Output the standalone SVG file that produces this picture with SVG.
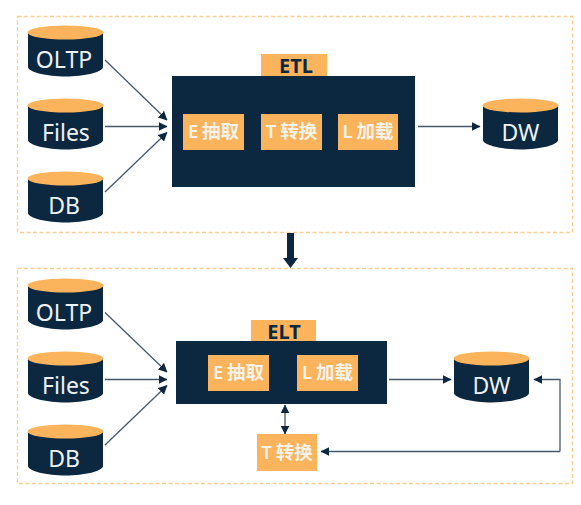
<svg xmlns="http://www.w3.org/2000/svg" width="581" height="505" viewBox="0 0 581 505">
<defs>
<marker id="a" viewBox="0 0 8 8" refX="7.500" refY="4" markerWidth="9" markerHeight="9" markerUnits="userSpaceOnUse" orient="auto-start-reverse"><path d="M0 0L8 4L0 8Z" fill="#0b2840"/></marker>
<g id="cyl"><path class="d" d="M28 32V67C28 72 47 76.500 65.500 76.500S103 72 103 67V32Z"/><ellipse class="o" cx="65.500" cy="32.500" rx="38" ry="7"/></g>
</defs>
<style>
.d{fill:#0b2840}.o{fill:#fbb45c}
.box{fill:none;stroke:#fbcf94;stroke-width:1.300;stroke-dasharray:4 2.500}
.c{fill:none;stroke:#46596c;stroke-width:1.300;marker-end:url(#a)}
text{font-family:"Noto Sans","Noto Sans CJK SC",sans-serif;text-anchor:middle}
.w{fill:#eef2f5;font-size:23px}
.l{fill:#f8f3ea;font-size:18.500px;font-weight:600;word-spacing:-1px}
.t{fill:#0b2840;font-size:20px;font-weight:700}
</style>
<rect width="581" height="505" fill="#fff"/>
<rect class="box" x="17.500" y="16.500" width="555" height="216"/>
<rect class="box" x="17.500" y="268.500" width="555" height="215"/>

<g id="connectors">
<path class="c" d="M105 60L167 120"/>
<path class="c" d="M105 126.500H167"/>
<path class="c" d="M105 192L167 132.500"/>
<path class="c" d="M418 126.500H480"/>
<path class="c" d="M105 312.500L167 372"/>
<path class="c" d="M105 379.500H167"/>
<path class="c" d="M105 445L167 385.500"/>
<path class="c" d="M389 379.500H451"/>
<path class="c" style="marker-start:url(#a)" d="M285 405V434"/>
<path class="c" d="M560 451.500V379.500H534"/>
<path class="c" d="M560 451.500H321"/>
<path d="M287 233H294V258H298L290.500 268L283 258H287Z" fill="#0b2840"/>
</g>

<g id="etl"><rect class="o" x="261" y="54" width="66" height="24"/><rect class="d" x="172" y="76" width="243" height="111"/><text class="t" x="296" y="73">ETL</text></g>
<g id="e1"><rect class="o" x="183" y="114" width="61" height="36"/><text class="l" x="213.500" y="138">E 抽取</text></g>
<g id="t1"><rect class="o" x="261" y="114" width="61" height="36"/><text class="l" x="291.500" y="138">T 转换</text></g>
<g id="l1"><rect class="o" x="338" y="114" width="60" height="36"/><text class="l" x="368" y="138">L 加载</text></g>

<g id="elt"><rect class="o" x="251" y="320" width="65" height="24"/><rect class="d" x="176" y="341" width="211" height="63"/><text class="t" x="284" y="339">ELT</text></g>
<g id="e2"><rect class="o" x="208" y="355" width="61" height="36"/><text class="l" x="238.500" y="379">E 抽取</text></g>
<g id="l2"><rect class="o" x="297" y="355" width="61" height="36"/><text class="l" x="327.500" y="379">L 加载</text></g>
<g id="t2"><rect class="o" x="257" y="434" width="60" height="37"/><text class="l" x="287" y="459">T 转换</text></g>

<g id="oltp1"><use href="#cyl"/><text class="w" x="64" y="68">OLTP</text></g>
<g id="files1"><use href="#cyl" y="73"/><text class="w" x="66" y="141">Files</text></g>
<g id="db1"><use href="#cyl" y="146"/><text class="w" x="64" y="214">DB</text></g>
<g id="dw1"><use href="#cyl" x="455" y="73"/><text class="w" x="520.500" y="141">DW</text></g>
<g id="oltp2"><use href="#cyl" y="253"/><text class="w" x="64" y="321">OLTP</text></g>
<g id="files2"><use href="#cyl" y="326"/><text class="w" x="66" y="394">Files</text></g>
<g id="db2"><use href="#cyl" y="399"/><text class="w" x="64" y="467">DB</text></g>
<g id="dw2"><use href="#cyl" x="426" y="326"/><text class="w" x="491.500" y="394">DW</text></g>
</svg>
